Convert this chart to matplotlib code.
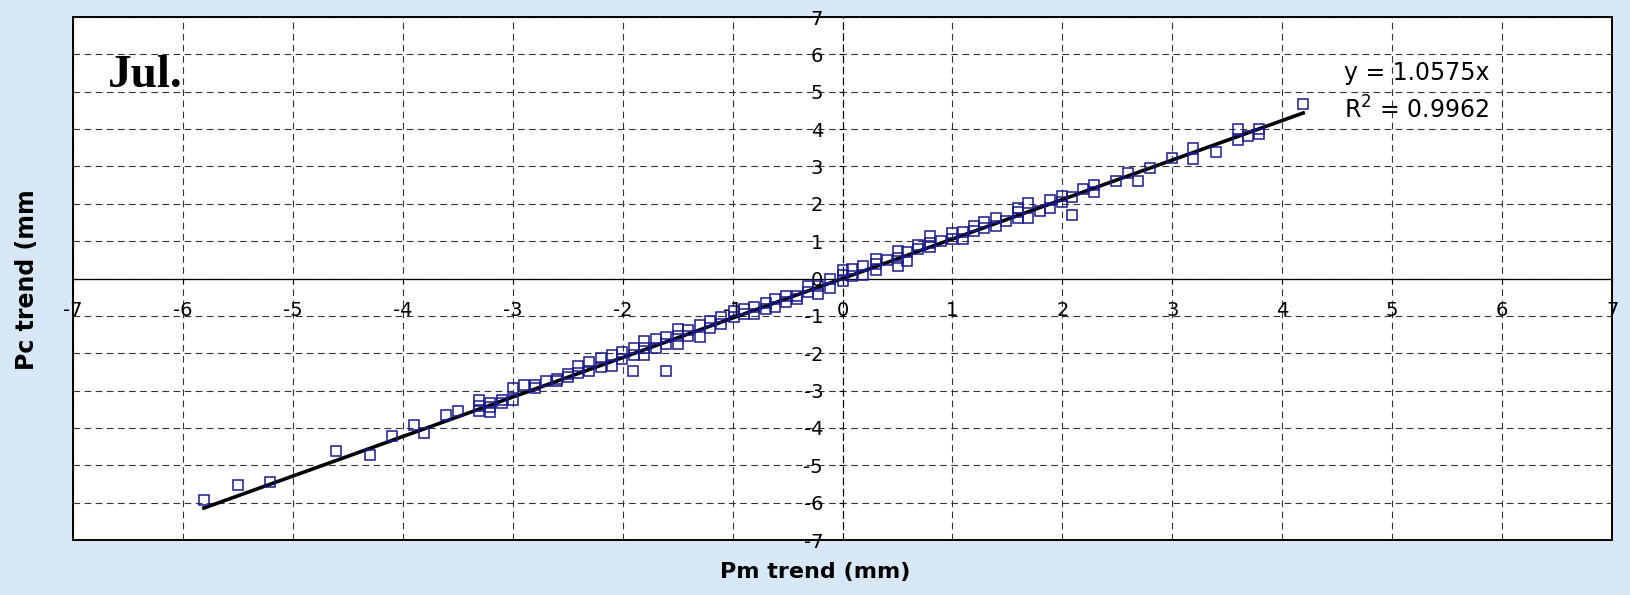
import numpy as np
import matplotlib.pyplot as plt
from matplotlib.patches import Rectangle

# Pm trend (x) and Pc trend (y)
pm_trend = [-5.81, -5.50, -5.21, -4.61, -4.30, -4.10, -3.90, -3.81, -3.61, -3.50,
            -3.31, -3.31, -3.31, -3.21, -3.21, -3.21, -3.10, -3.10, -3.00, -3.00,
            -2.90, -2.80, -2.80, -2.70, -2.60, -2.60, -2.50, -2.50, -2.41, -2.41,
            -2.31, -2.31, -2.20, -2.20, -2.10, -2.10, -2.01, -2.01,
            -1.90, -1.90, -1.91, -1.81, -1.81, -1.81, -1.70, -1.70, -1.61, -1.61,
            -1.61, -1.50, -1.50, -1.50, -1.41, -1.41, -1.30, -1.30, -1.21, -1.21,
            -1.11, -1.11, -0.99, -0.99, -0.90, -0.90, -0.81, -0.81, -0.70, -0.70,
            -0.61, -0.61, -0.51, -0.51, -0.41, -0.41, -0.31, -0.31,
            -0.22, -0.22, -0.11, -0.11, 0.00, 0.00, 0.00, 0.09, 0.09, 0.19, 0.19,
            0.30, 0.30, 0.30, 0.40, 0.50, 0.50, 0.50, 0.59, 0.59, 0.69, 0.69,
            0.80, 0.80, 0.80, 0.90, 1.00, 1.00, 1.10, 1.10, 1.20, 1.20,
            1.29, 1.29, 1.40, 1.40, 1.49, 1.60, 1.60, 1.60, 1.69, 1.69, 1.80,
            1.89, 1.89, 2.00, 2.00, 2.09, 2.09, 2.19, 2.29, 2.29, 2.49, 2.60,
            2.69, 2.80, 3.00, 3.19, 3.19, 3.40, 3.60, 3.60, 3.69, 3.79, 3.79, 4.19]
pc_trend = [-5.92, -5.52, -5.44, -4.61, -4.72, -4.21, -3.92, -4.14, -3.65, -3.55,
            -3.26, -3.41, -3.55, -3.32, -3.44, -3.57, -3.26, -3.34, -2.93, -3.24,
            -2.86, -2.86, -2.94, -2.75, -2.68, -2.75, -2.55, -2.64, -2.35, -2.53,
            -2.23, -2.48, -2.13, -2.37, -2.06, -2.35, -1.97, -2.15,
            -1.86, -2.05, -2.48, -1.66, -1.85, -2.04, -1.63, -1.85, -1.57, -1.75,
            -2.48, -1.35, -1.54, -1.75, -1.37, -1.54, -1.24, -1.57, -1.13, -1.32,
            -1.04, -1.23, -0.86, -1.04, -0.82, -0.95, -0.77, -0.95, -0.65, -0.82,
            -0.55, -0.77, -0.46, -0.64, -0.46, -0.55, -0.20, -0.37,
            -0.20, -0.42, -0.02, -0.25, 0.22, 0.09, -0.06, 0.25, 0.06, 0.33, 0.10,
            0.51, 0.38, 0.22, 0.49, 0.73, 0.56, 0.34, 0.71, 0.47, 0.91, 0.78,
            1.13, 0.96, 0.84, 1.00, 1.22, 1.07, 1.25, 1.06, 1.40, 1.27,
            1.50, 1.35, 1.62, 1.40, 1.53, 1.90, 1.77, 1.62, 2.02, 1.63, 1.82,
            2.11, 1.90, 2.20, 2.04, 2.18, 1.71, 2.39, 2.51, 2.31, 2.61, 2.82,
            2.60, 2.97, 3.22, 3.50, 3.20, 3.39, 4.00, 3.70, 3.82, 4.00, 3.88, 4.67]

slope = 1.0575
r_squared = 0.9962
ticks = list(range(-7, 8))

plt.rcParams['axes.unicode_minus'] = False
plt.rcParams['mathtext.default'] = 'regular'

fig = plt.figure(figsize=(16.30, 5.95), dpi=100, facecolor='#d8e7f6')
ax = fig.add_axes([0.0448, 0.0924, 0.9442, 0.879])

ax.set_xlim(-7, 7)
ax.set_ylim(-7, 7)
ax.set_xticks(ticks)
ax.set_yticks(ticks)

# axes cross at zero, box drawn separately
ax.spines['left'].set_position('zero')
ax.spines['bottom'].set_position('zero')
ax.spines['top'].set_visible(False)
ax.spines['right'].set_visible(False)
ax.spines['left'].set_linestyle((0, (6, 4)))
ax.spines['left'].set_linewidth(0.8)
ax.spines['bottom'].set_linewidth(0.9)
ax.add_patch(Rectangle((0, 0), 1, 1, transform=ax.transAxes, fill=False,
                       edgecolor='black', lw=1.4, clip_on=False, zorder=5))

ax.grid(True, color='#333333', linestyle=(0, (6, 4)), linewidth=0.8)
ax.set_axisbelow(True)

ax.tick_params(axis='x', direction='out', length=3, pad=13, labelsize=14)
ax.tick_params(axis='y', direction='out', length=3, pad=11, labelsize=14)

# trend line
xs = np.array([min(pm_trend), max(pm_trend)])
ax.plot(xs, slope * xs, color='black', lw=2.6, zorder=3)

ax.plot(pm_trend, pc_trend, 's', markersize=6.5, markerfacecolor='none',
        markeredgecolor='#1a1a8c', markeredgewidth=1.1, zorder=4)

ax.text(-6.68, 5.12, 'Jul.', fontsize=34, fontweight='bold',
        family='Liberation Serif', va='baseline', ha='left')
ax.text(5.22, 5.5, 'y = %.4fx' % slope, fontsize=17, ha='center', va='center')
ax.text(5.22, 4.5, r'R$^2$ = %.4f' % r_squared, fontsize=17, ha='center', va='center')

fig.text(0.5, 0.038, 'Pm trend (mm)', fontsize=16, fontweight='bold',
         ha='center', va='center')
fig.text(0.0166, 0.53, 'Pc trend (mm', fontsize=17, fontweight='bold',
         ha='center', va='center', rotation=90)

plt.savefig('out.png', dpi=100, facecolor=fig.get_facecolor())
